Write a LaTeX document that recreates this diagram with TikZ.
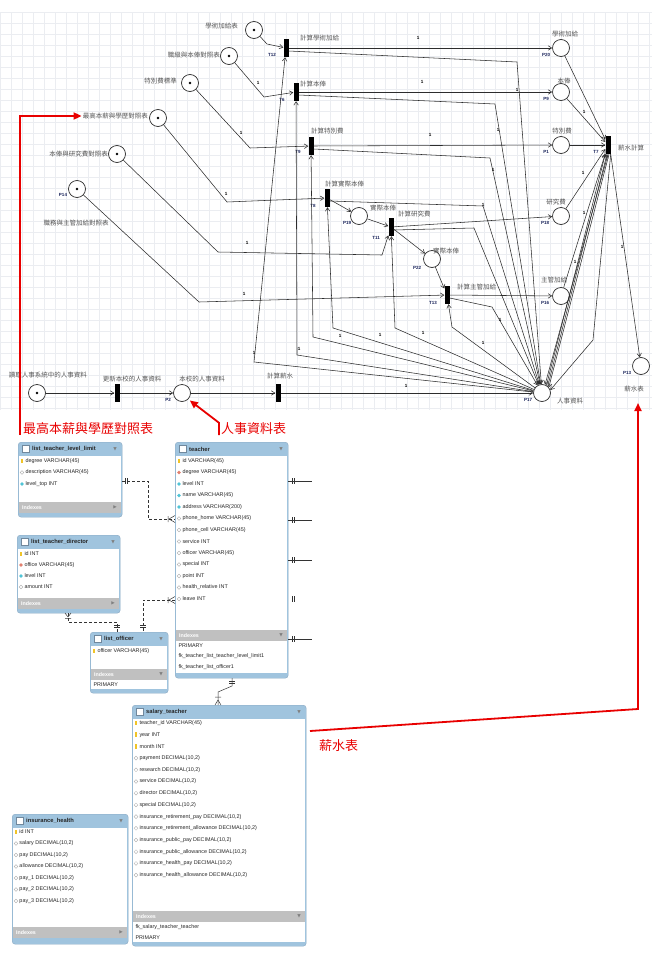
\documentclass[tikz,border=0pt]{standalone}
\usepackage{fontspec}
\setmainfont{Liberation Sans}
\newfontfamily\cjk{Noto Sans CJK TC}
\newfontfamily\symfont{DejaVu Sans}
\usetikzlibrary{arrows.meta,shapes.geometric}

\definecolor{pline}{RGB}{45,45,45}
\definecolor{lblgray}{RGB}{85,85,85}
\definecolor{pnavy}{RGB}{25,35,90}
\definecolor{gridgray}{RGB}{235,237,241}
\definecolor{hdrblue}{RGB}{160,196,222}
\definecolor{tblborder}{RGB}{140,170,196}
\definecolor{idxgray}{RGB}{192,192,192}
\definecolor{annred}{RGB}{232,0,0}
\definecolor{keyyellow}{RGB}{240,196,40}
\definecolor{fkred}{RGB}{226,128,110}
\definecolor{idxcyan}{RGB}{80,196,214}

\tikzset{
  gridline/.style={draw=gridgray, line width=0.3pt},
  place/.style={circle, draw=pline, line width=0.7pt, fill=white, minimum size=17pt, inner sep=0pt},
  marked/.style={place, path picture={\fill[black] (path picture bounding box.center) circle (1.3pt);}},
  trans/.style={rectangle, fill=black, minimum width=5pt, minimum height=18pt, inner sep=0pt},
  arc/.style={draw=pline, line width=0.55pt, -{Straight Barb[length=3.5pt,width=4.5pt]}},
  petlbl/.style={font=\cjk\fontsize{6.5}{7}\selectfont, text=lblgray, inner sep=1pt},
  pname/.style={font=\bfseries\fontsize{4.5}{5}\selectfont, text=pnavy, inner sep=0.5pt},
  weight/.style={font=\bfseries\fontsize{4.5}{5}\selectfont, text=black, inner sep=0.5pt},
  redlbl/.style={font=\cjk\fontsize{13}{14}\selectfont, text=annred, inner sep=0pt, anchor=west},
  redline/.style={draw=annred, line width=1.8pt, -{Triangle[length=8pt,width=7pt]}},
  tblouter/.style={rectangle, rounded corners=3pt, fill=hdrblue, draw=tblborder, line width=0.4pt, inner sep=0pt},
  tblicon/.style={fill=white, draw=tblborder!80!black, line width=0.4pt},
  tbltitle/.style={font=\bfseries\fontsize{5.8}{6.5}\selectfont, text=black!85, anchor=west, inner sep=0pt},
  tblarrow/.style={font=\symfont\fontsize{4.5}{5}\selectfont, text=gray, inner sep=0pt},
  idxtxt/.style={font=\bfseries\fontsize{5.3}{6}\selectfont, text=white, anchor=west, inner sep=0pt},
  fieldtxt/.style={font=\fontsize{5.4}{6}\selectfont, text=black!85, anchor=west, inner sep=0.3pt},
  iconkey/.style={rectangle, fill=keyyellow, minimum width=1.8pt, minimum height=4.5pt, inner sep=0pt},
  iconfk/.style={diamond, fill=fkred, minimum size=4pt, inner sep=0pt},
  iconidx/.style={diamond, fill=idxcyan, minimum size=4pt, inner sep=0pt},
  iconnul/.style={diamond, draw=gray!70, fill=white, line width=0.3pt, minimum size=4pt, inner sep=0pt},
  relline/.style={draw=black!80, line width=0.5pt},
  reldash/.style={relline, dash pattern=on 3pt off 2pt}
}

% #1 name, #2 x, #3 y, #4 width, #5 height, #6 top of Indexes band, #7 title, #8 band arrow
\newcommand{\ertable}[8]{%
  \node[tblouter, minimum width=#4pt, minimum height=#5pt, anchor=north west] (#1) at (#2,#3) {};
  \fill[white] (#2+0.8,#3+14) rectangle (#2+#4-0.8,#6);
  \fill[idxgray] (#2+0.8,#6) rectangle (#2+#4-0.8,#6+11);
  \draw[tblicon] (#2+4,#3+3.5) rectangle (#2+11,#3+10.5);
  \node[tbltitle] (#1title) at (#2+14,#3+7) {#7};
  \node[tblarrow] (#1hdrarr) at (#2+#4-7,#3+7) {▼};
  \node[idxtxt] (#1idx) at (#2+4,#6+5.5) {Indexes};
  \node[tblarrow] (#1idxarr) at (#2+#4-7,#6+5.5) {#8};
}

\begin{document}
\begin{tikzpicture}[x=1pt, y=-1pt]
  \useasboundingbox (0,0) rectangle (652,953);
  % grid behind the net
  \foreach \gx in {0,11,...,649} \draw[gridline] (\gx,12) -- (\gx,410);
  \foreach \gy in {12,23,...,410} \draw[gridline] (0,\gy) -- (652,\gy);

  % places
  \node[marked] (pA) at (254,30) {};
  \node[marked] (pB) at (229,56) {};
  \node[marked] (pC) at (190,83) {};
  \node[marked] (pD) at (158,118) {};
  \node[marked] (pE) at (117,154) {};
  \node[marked] (P14) at (77,189) {};
  \node[place] (P20) at (561,48) {};
  \node[place] (P9) at (561,92) {};
  \node[place] (P1) at (561,145) {};
  \node[place] (P19) at (359,216) {};
  \node[place] (P18) at (561,216) {};
  \node[place] (P22) at (432,259) {};
  \node[place] (P16) at (561,296) {};
  \node[place] (P17) at (542,393) {};
  \node[place] (P13) at (641,366) {};
  \node[marked] (p0) at (37,393) {};
  \node[place] (P2) at (182,393) {};

  % transitions
  \node[trans] (T12) at (286,48) {};
  \node[trans] (T6) at (296,92) {};
  \node[trans] (T9) at (311,146) {};
  \node[trans] (T8) at (327,198) {};
  \node[trans] (T11) at (391,227) {};
  \node[trans] (T13) at (447,295) {};
  \node[trans] (T7) at (608,145) {};
  \node[trans] (T1) at (117,393) {};
  \node[trans] (T2) at (278,393) {};

  % ids
  \node[pname] (nP14) at (63,195) {P14};
  \node[pname] (nP20) at (546,55) {P20};
  \node[pname] (nP9) at (546,99) {P9};
  \node[pname] (nP1) at (546,152) {P1};
  \node[pname] (nP19) at (347,223) {P19};
  \node[pname] (nP18) at (545,223) {P18};
  \node[pname] (nP22) at (417,268) {P22};
  \node[pname] (nP16) at (545,303) {P16};
  \node[pname] (nP17) at (528,400) {P17};
  \node[pname] (nP13) at (627,373) {P13};
  \node[pname] (nP2) at (168,400) {P2};
  \node[pname] (nT12) at (272,55) {T12};
  \node[pname] (nT6) at (282,100) {T6};
  \node[pname] (nT9) at (298,152) {T9};
  \node[pname] (nT8) at (313,206) {T8};
  \node[pname] (nT11) at (376,238) {T11};
  \node[pname] (nT13) at (433,303) {T13};
  \node[pname] (nT7) at (596,152) {T7};

  % texts of the net
  \node[petlbl, anchor=east] (pAlbl) at (239,26) {學術加給表};
  \node[petlbl, anchor=east] (pBlbl) at (221,55) {職級與本俸對照表};
  \node[petlbl, anchor=east] (pClbl) at (178,81) {特別費標準};
  \node[petlbl, anchor=east] (pDlbl) at (149,116) {最高本薪與學歷對照表};
  \node[petlbl, anchor=east] (pElbl) at (109,154) {本俸與研究費對照表};
  \node[petlbl] (P14lbl) at (76,223) {職務與主管加給對照表};
  \node[petlbl, anchor=west] (T12lbl) at (299,38) {計算學術加給};
  \node[petlbl, anchor=west] (T6lbl) at (299,84) {計算本俸};
  \node[petlbl, anchor=west] (T9lbl) at (310,131) {計算特別費};
  \node[petlbl, anchor=west] (T8lbl) at (324,184) {計算實際本俸};
  \node[petlbl] (P19lbl) at (383,208) {實際本俸};
  \node[petlbl, anchor=west] (T11lbl) at (397,214) {計算研究費};
  \node[petlbl] (P22lbl) at (446,251) {實際本俸};
  \node[petlbl, anchor=west] (T13lbl) at (456,287) {計算主管加給};
  \node[petlbl] (P20lbl) at (565,34) {學術加給};
  \node[petlbl] (P9lbl) at (564,81) {本俸};
  \node[petlbl] (P1lbl) at (562,131) {特別費};
  \node[petlbl] (P18lbl) at (556,202) {研究費};
  \node[petlbl] (P16lbl) at (554,280) {主管加給};
  \node[petlbl, anchor=west] (T7lbl) at (617,148) {薪水計算};
  \node[petlbl, anchor=west] (P17lbl) at (556,401) {人事資料};
  \node[petlbl] (P13lbl) at (634,389) {薪水表};
  \node[petlbl] (p0lbl) at (48,375) {讀取人事系統中的人事資料};
  \node[petlbl] (T1lbl) at (132,379) {更新本校的人事資料};
  \node[petlbl] (P2lbl) at (202,379) {本校的人事資料};
  \node[petlbl] (T2lbl) at (280,376) {計算薪水};

  % tables in, results out
  \draw[arc] (pA) -- (267,44) -- (T12);
  \draw[arc] (pB) -- (264,97) -- (T6);
  \draw[arc] (pC) -- (250,148) -- (T9);
  \draw[arc] (pD) -- (227,202) -- (T8);
  \draw[arc] (pE) -- (218,252) -- (382,255) -- (T11);
  \draw[arc] (P14) -- (199,302) -- (T13);
  \draw[arc] (T12) -- (P20);
  \draw[arc] (T6) -- (P9);
  \draw[arc] (T9) -- (P1);
  \draw[arc] (T8) -- (P19);
  \draw[arc] (P19) -- (T11);
  \draw[arc] (T11) -- (P18);
  \draw[arc] (T11) -- (P22);
  \draw[arc] (P22) -- (T13);
  \draw[arc] (T13) -- (P16);
  % back to the personnel data
  \draw[arc] ([yshift=-3pt]T12.east) -- (517,62) -- (P17);
  \draw[arc] ([yshift=-3pt]T6.east) -- (495,104) -- (P17);
  \draw[arc] ([yshift=-3pt]T9.east) -- (490,158) -- (P17);
  \draw[arc] ([yshift=-3pt]T8.east) -- (483,206) -- (P17);
  \draw[arc] ([yshift=-3pt]T11.east) -- (474,228) -- (P17);
  \draw[arc] ([yshift=-3pt]T13.east) -- (492,307) -- (P17);
  \draw[arc] (P17) -- (254,362) -- (T12);
  \draw[arc] (P17) -- (297,355) -- (T6);
  \draw[arc] (P17) -- (313,337) -- (T9);
  \draw[arc] (P17) -- (333,328) -- (T8);
  \draw[arc] (P17) -- (395,328) -- (T11);
  \draw[arc] (P17) -- (452,327) -- (T13);
  % salary
  \draw[arc] (P20) -- (T7);
  \draw[arc] (P9) -- (T7);
  \draw[arc] (P1) -- (T7);
  \draw[arc] (P18) -- (T7);
  \draw[arc] (P16) -- (T7);
  \draw[arc] (P17.60) -- (T7.south west);
  \draw[arc] (P17.50) -- ([xshift=-1pt]T7.south);
  \draw[arc] (T7.south) -- (P17.70);
  \draw[arc] ([xshift=1pt]T7.south) -- (P17.40);
  \draw[arc] (T7.south east) -- (593,340) -- (P17.20);
  \draw[arc] (T7.south east) -- (P13);
  % bottom row
  \draw[arc] (p0) -- (T1);
  \draw[arc] (T1) -- (P2);
  \draw[arc] (P2) -- (T2);
  \draw[arc] (T2) -- (P17);
  \foreach \wx/\wy [count=\i] in {418/38, 422/82, 430/135, 517/90, 498/130, 493/170,
      483/205, 500/320, 340/336, 380/335, 423/333, 483/343, 299/349, 254/353, 406/386,
      584/112, 583/173, 575/262, 584/213, 622/247, 258/83, 241/133, 226/194, 247/243, 244/294}
    \node[weight] (w\i) at (\wx,\wy) {1};

  % tables
  \ertable{tLevel}{18}{442}{104}{75}{502}{list\_teacher\_level\_limit}{▶}
  \foreach \ic/\txt [count=\i from 0] in {iconkey/{degree VARCHAR(45)},
      iconnul/{description VARCHAR(45)}, iconidx/{level\_top INT}}
    {\node[\ic] (lv\i) at (22,461+11.5*\i) {}; \node[fieldtxt] (lvt\i) at (25,461+11.5*\i) {\txt};}

  \ertable{tDirector}{17}{535}{103}{78}{598}{list\_teacher\_director}{▶}
  \foreach \ic/\txt [count=\i from 0] in {iconkey/{id INT}, iconfk/{office VARCHAR(45)},
      iconidx/{level INT}, iconnul/{amount INT}}
    {\node[\ic] (dr\i) at (21,554+11*\i) {}; \node[fieldtxt] (drt\i) at (24,554+11*\i) {\txt};}

  \ertable{tTeacher}{175}{442}{113}{236}{630}{teacher}{▼}
  \fill[white] (175.8,641) rectangle (287.2,673);
  \foreach \ic/\txt [count=\i from 0] in {iconkey/{id VARCHAR(45)}, iconfk/{degree VARCHAR(45)},
      iconidx/{level INT}, iconidx/{name VARCHAR(45)}, iconidx/{address VARCHAR(200)},
      iconnul/{phone\_home VARCHAR(45)}, iconnul/{phone\_cell VARCHAR(45)}, iconnul/{service INT},
      iconnul/{officer VARCHAR(45)}, iconnul/{special INT}, iconnul/{point INT},
      iconnul/{health\_relative INT}, iconnul/{leave INT}}
    {\node[\ic] (tc\i) at (179,461+11.5*\i) {}; \node[fieldtxt] (tct\i) at (182,461+11.5*\i) {\txt};}
  \node[fieldtxt] (tcx1) at (178,646) {PRIMARY};
  \node[fieldtxt] (tcx2) at (178,656.5) {fk\_teacher\_list\_teacher\_level\_limit1};
  \node[fieldtxt] (tcx3) at (178,667) {fk\_teacher\_list\_officer1};

  \ertable{tOfficer}{90}{632}{78}{61}{669}{list\_officer}{▼}
  \fill[white] (90.8,680) rectangle (167.2,689);
  \node[iconkey] (of0) at (94,651) {};
  \node[fieldtxt] (oft0) at (97,651) {officer VARCHAR(45)};
  \node[fieldtxt] (ofx1) at (93,684.5) {PRIMARY};

  \ertable{tSalary}{132}{705}{174}{241}{911}{salary\_teacher}{▼}
  \fill[white] (132.8,922) rectangle (305.2,942);
  \foreach \ic/\txt [count=\i from 0] in {iconkey/{teacher\_id VARCHAR(45)}, iconkey/{year INT},
      iconkey/{month INT}, iconnul/{payment DECIMAL(10,2)}, iconnul/{research DECIMAL(10,2)},
      iconnul/{service DECIMAL(10,2)}, iconnul/{director DECIMAL(10,2)}, iconnul/{special DECIMAL(10,2)},
      iconnul/{insurance\_retirement\_pay DECIMAL(10,2)}, iconnul/{insurance\_retirement\_allowance DECIMAL(10,2)},
      iconnul/{insurance\_public\_pay DECIMAL(10,2)}, iconnul/{insurance\_public\_allowance DECIMAL(10,2)},
      iconnul/{insurance\_health\_pay DECIMAL(10,2)}, iconnul/{insurance\_health\_allowance DECIMAL(10,2)}}
    {\node[\ic] (sl\i) at (136,723+11.7*\i) {}; \node[fieldtxt] (slt\i) at (139,723+11.7*\i) {\txt};}
  \node[fieldtxt] (slx1) at (135,927) {fk\_salary\_teacher\_teacher};
  \node[fieldtxt] (slx2) at (135,938) {PRIMARY};

  \ertable{tHealth}{12}{814}{116}{130}{927}{insurance\_health}{▶}
  \foreach \ic/\txt [count=\i from 0] in {iconkey/{id INT}, iconnul/{salary DECIMAL(10,2)},
      iconnul/{pay DECIMAL(10,2)}, iconnul/{allowance DECIMAL(10,2)}, iconnul/{pay\_1 DECIMAL(10,2)},
      iconnul/{pay\_2 DECIMAL(10,2)}, iconnul/{pay\_3 DECIMAL(10,2)}}
    {\node[\ic] (ih\i) at (16,832+11.5*\i) {}; \node[fieldtxt] (iht\i) at (19,832+11.5*\i) {\txt};}

  % relations
  \coordinate (lvlR) at (122,481);
  \coordinate (tchL1) at (175,519);
  \coordinate (tchL2) at (175,600);
  \coordinate (offT1) at (143,632);
  \coordinate (offT2) at (117,632);
  \coordinate (dirB) at (68,613);
  \coordinate (tchB) at (232,678);
  \coordinate (salT) at (218,705);
  \draw[reldash] (lvlR) -- (148,481) |- (tchL1);
  \draw[relline] (125,478) -- (125,484) (127.5,478) -- (127.5,484);
  \draw[relline] (168,516) -- (168,522) (169,519) -- (175,515.5) (169,519) -- (175,522.5);
  \draw[reldash] (tchL2) -- (143,600) -- (offT1);
  \draw[relline] (168,597) -- (168,603) (169,600) -- (175,596.5) (169,600) -- (175,603.5);
  \draw[relline] (140,625) -- (146,625) (140,627.5) -- (146,627.5);
  \draw[reldash] (dirB) -- (68,622) -| (offT2);
  \draw[relline] (65,618.5) -- (71,618.5) (68,617) -- (65,613) (68,617) -- (71,613);
  \draw[relline] (114,625) -- (120,625) (114,627.5) -- (120,627.5);
  \draw[relline] (tchB) -- (232,686) -- (218,692) -- (salT);
  \draw[relline] (229,681) -- (235,681) (229,683.5) -- (235,683.5);
  \draw[relline] (215,697) -- (221,697) (218,700) -- (215,705) (218,700) -- (221,705);
  \foreach \sy in {481,520,560,639}
    {\draw[relline] (288,\sy) -- (312,\sy);
     \draw[relline] (292,\sy-3) -- (292,\sy+3) (294.5,\sy-3) -- (294.5,\sy+3);}
  \draw[relline] (292,596) -- (292,602) (294.5,596) -- (294.5,602);

  % red notes
  \node[redlbl] (lblLimit) at (23,429) {最高本薪與學歷對照表};
  \node[redlbl] (lblPers) at (221,429) {人事資料表};
  \node[redlbl] (lblSal) at (319,746) {薪水表};
  \coordinate (salStart) at (310,731);
  \coordinate (salCorner) at (638,709);
  \coordinate (salTip) at (638,403);
  \draw[redline] ([xshift=-3pt]lblLimit.south west) |- (pDlbl.west);
  \draw[redline, shorten >=2pt] ([xshift=-2pt]lblPers.south west) -- ([xshift=-2pt]lblPers.north west) -- (P2.south east);
  \draw[redline] (salStart) -- (salCorner) -- (salTip);
\end{tikzpicture}
\end{document}
